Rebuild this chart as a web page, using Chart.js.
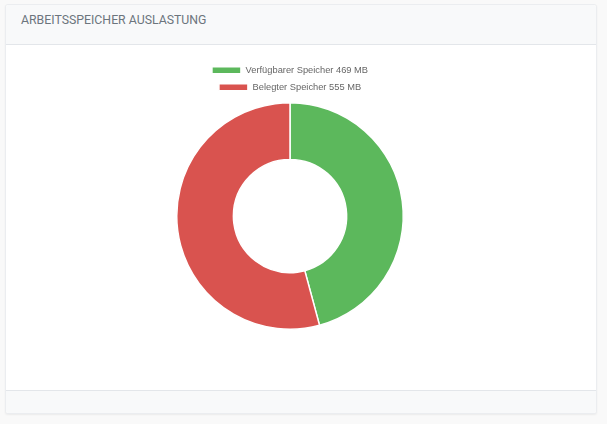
<!DOCTYPE html>
<html>
<head>
<meta charset="utf-8">
<script src="https://cdn.jsdelivr.net/npm/chart.js@4/dist/chart.umd.min.js"></script>
<style>
  html, body { margin: 0; padding: 0; }
  body { width: 607px; height: 424px; background: #f9f9f9; position: relative; overflow: hidden; }
  .card { position: absolute; left: 5px; top: 4px; width: 592px; height: 410px; background: #fff;
          border: 1px solid #ebedf0; border-radius: 3px; box-shadow: 0 1px 2px rgba(0,0,0,0.06); box-sizing: border-box; overflow: hidden; }
  .hdr { position: absolute; left: 0; top: 0; right: 0; height: 40px; background: #f8f9fa; border-bottom: 1px solid #e3e6ea; box-sizing: border-box; }
  .hdr span { position: absolute; left: 15px; top: 5px; font-family: Roboto, sans-serif; font-size: 12.3px; color: #6c757d; line-height: 20px; }
  .ftr { position: absolute; left: 0; right: 0; top: 385px; bottom: 0; background: #f8f9fa; border-top: 1px solid #e3e6ea; box-sizing: border-box; }
  .wrap { position: absolute; left: 170px; top: 58px; width: 240px; height: 272px; }
</style>
</head>
<body>
<div class="card">
  <div class="hdr"><span>ARBEITSSPEICHER AUSLASTUNG</span></div>
  <div class="ftr"></div>
</div>
<div class="wrap"><canvas id="c"></canvas></div>
<script>
const categories = ["Verfügbarer Speicher 469 MB", "Belegter Speicher 555 MB"];
const memoryValues = [469, 555];
const sliceColors = ["#5cb85c", "#d9534f"];

new Chart(document.getElementById('c'), {
  type: 'doughnut',
  data: {
    labels: categories,
    datasets: [{
      data: memoryValues,
      backgroundColor: sliceColors,
      borderColor: '#ffffff',
      borderWidth: 1.5,
      hoverOffset: 0
    }]
  },
  options: {
    responsive: true,
    maintainAspectRatio: false,
    animation: false,
    cutout: '50%',
    plugins: {
      legend: {
        position: 'top',
        labels: {
          boxWidth: 29,
          boxHeight: 7,
          padding: 7.7,
          color: '#666',
          font: { family: '"Liberation Sans", Arial, sans-serif', size: 9.3 }
        }
      },
      tooltip: { enabled: false }
    }
  }
});
</script>
</body>
</html>
